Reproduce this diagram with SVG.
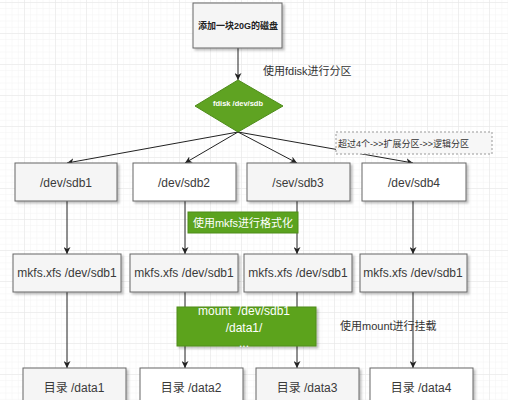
<svg xmlns="http://www.w3.org/2000/svg" width="508" height="400" viewBox="0 0 508 400">
<defs>
<pattern id="minor" x="24" y="2" width="6.2" height="6.2" patternUnits="userSpaceOnUse">
<path d="M0 0H6.2M0 0V6.2" stroke="#f2f2f2" stroke-width="1" fill="none"/>
</pattern>
<pattern id="major" x="24" y="2" width="31" height="31" patternUnits="userSpaceOnUse">
<path d="M0 0H31M0 0V31" stroke="#e6e6e6" stroke-width="1" fill="none"/>
</pattern>
<marker id="arr" viewBox="0 0 10 10" refX="10" refY="5" markerWidth="7" markerHeight="7" orient="auto" markerUnits="userSpaceOnUse">
<path d="M0 0L10 5L0 10L3 5Z" fill="#222"/>
</marker>
<filter id="sh" x="-10%" y="-10%" width="130%" height="140%">
<feDropShadow dx="2" dy="2" stdDeviation="1" flood-color="#000" flood-opacity="0.25"/>
</filter>
</defs>
<style>
.box{stroke:#666;stroke-width:1;filter:url(#sh)}
.g{fill:#f5f5f5}
.w{fill:#fff}
.t{font-family:"Liberation Sans","Noto Sans CJK SC",sans-serif;font-size:12px;fill:#3a3a3a;text-anchor:middle;dominant-baseline:central}
.c{stroke:#222;stroke-width:1;fill:none;marker-end:url(#arr)}
.lbl{font-family:"Liberation Sans","Noto Sans CJK SC",sans-serif;font-size:11px;fill:#333}
.wt{font-family:"Liberation Sans","Noto Sans CJK SC",sans-serif;fill:#fff;text-anchor:middle;dominant-baseline:central}
</style>
<rect width="508" height="400" fill="#fff"/>
<rect width="508" height="400" fill="url(#minor)"/>
<rect width="508" height="400" fill="url(#major)"/>

<g id="connectors">
<line class="c" x1="238" y1="48" x2="238" y2="80"/>
<line class="c" x1="238" y1="132" x2="67" y2="163"/>
<line class="c" x1="238" y1="132" x2="185" y2="163"/>
<line class="c" x1="238" y1="132" x2="297" y2="163"/>
<line class="c" x1="238" y1="132" x2="413" y2="163"/>
<line class="c" x1="67" y1="201" x2="67" y2="254"/>
<line class="c" x1="185" y1="201" x2="185" y2="254"/>
<line class="c" x1="297" y1="201" x2="297" y2="254"/>
<line class="c" x1="413" y1="201" x2="413" y2="254"/>
<line class="c" x1="67" y1="292" x2="67" y2="368"/>
<line class="c" x1="185" y1="292" x2="185" y2="368"/>
<line class="c" x1="297" y1="292" x2="297" y2="368"/>
<line class="c" x1="413" y1="292" x2="413" y2="368"/>
</g>

<g id="start">
<rect class="box g" x="193" y="3" width="89" height="45"/>
<text class="t" x="238" y="26" style="font-size:9px;font-weight:bold;fill:#222">添加一块20G的磁盘</text>
</g>

<g id="label-fdisk">
<text class="lbl" x="263" y="75">使用fdisk进行分区</text>
</g>

<g id="diamond">
<path d="M238 80L283 106L238 132L195 106Z" fill="#5fa322" stroke="#4e8c1a" stroke-width="1"/>
<text class="wt" x="238" y="103" style="font-size:7.5px;font-weight:bold">fdisk /dev/sdb</text>
</g>

<g id="note">
<rect x="336" y="132" width="156" height="22" fill="#f7f7f7" stroke="#999" stroke-width="1" stroke-dasharray="2,2"/>
<text class="lbl" x="338" y="147" style="font-size:9px">超过4个->>扩展分区->>逻辑分区</text>
</g>

<g id="sdb1"><rect class="box g" x="15" y="163" width="102" height="38"/><text class="t" x="66" y="183">/dev/sdb1</text></g>
<g id="sdb2"><rect class="box w" x="133" y="163" width="103" height="38"/><text class="t" x="184" y="183">/dev/sdb2</text></g>
<g id="sdb3"><rect class="box g" x="247" y="163" width="103" height="38"/><text class="t" x="298" y="183">/sev/sdb3</text></g>
<g id="sdb4"><rect class="box w" x="362" y="163" width="104" height="38"/><text class="t" x="414" y="183">/dev/sdb4</text></g>

<g id="label-mkfs">
<rect x="188" y="212" width="110" height="21" fill="#5ba31f" stroke="#4e8c1a" stroke-width="1"/>
<text class="wt" x="243" y="222.5" style="font-size:11px">使用mkfs进行格式化</text>
</g>

<g id="mkfs1"><rect class="box g" x="13" y="254" width="108" height="38"/><text class="t" x="67" y="273">mkfs.xfs /dev/sdb1</text></g>
<g id="mkfs2"><rect class="box g" x="130" y="254" width="108" height="38"/><text class="t" x="184" y="273">mkfs.xfs /dev/sdb1</text></g>
<g id="mkfs3"><rect class="box g" x="244" y="254" width="108" height="38"/><text class="t" x="298" y="273">mkfs.xfs /dev/sdb1</text></g>
<g id="mkfs4"><rect class="box g" x="360" y="254" width="107" height="38"/><text class="t" x="413" y="273">mkfs.xfs /dev/sdb1</text></g>

<g id="mount">
<rect x="177" y="307" width="139" height="39" fill="#5ba31f" stroke="#4e8c1a" stroke-width="1" filter="url(#sh)"/>
<text class="wt" x="244" y="311" style="font-size:12px;white-space:pre" xml:space="preserve">mount  /dev/sdb1</text>
<text class="wt" x="244" y="328" style="font-size:12px">/data1/</text>
<text class="wt" x="244" y="343" style="font-size:12px">...</text>
</g>

<g id="label-mount">
<text class="lbl" x="340" y="330">使用mount进行挂载</text>
</g>

<g id="data1"><rect class="box g" x="23" y="368" width="103" height="40"/><text class="t" x="74" y="388">目录 /data1</text></g>
<g id="data2"><rect class="box w" x="140" y="368" width="103" height="40"/><text class="t" x="191" y="388">目录 /data2</text></g>
<g id="data3"><rect class="box g" x="256" y="368" width="103" height="40"/><text class="t" x="307" y="388">目录 /data3</text></g>
<g id="data4"><rect class="box w" x="370" y="368" width="103" height="40"/><text class="t" x="421" y="388">目录 /data4</text></g>
</svg>
